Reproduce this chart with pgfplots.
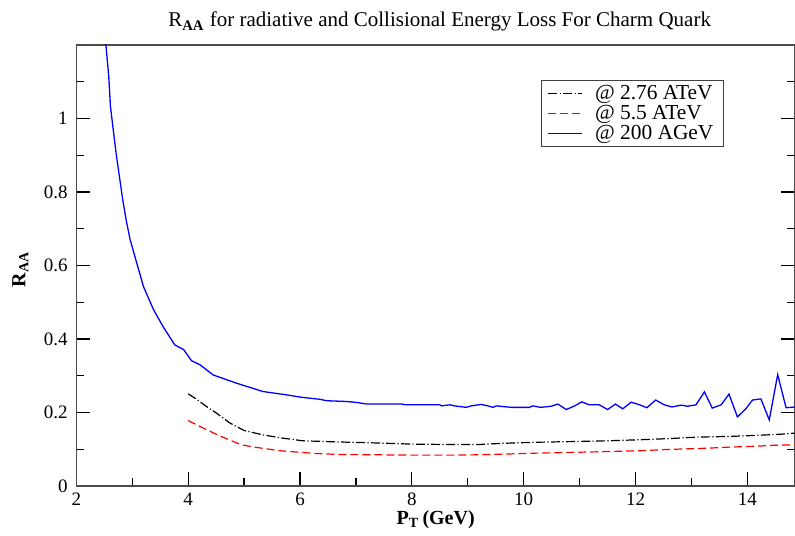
\documentclass[border=0pt]{standalone}
\usepackage{fontspec}
\setmainfont{Liberation Serif}
\usepackage{pgfplots}
\pgfplotsset{compat=1.18}
\begin{document}
\begin{tikzpicture}
\useasboundingbox (-38.15pt,-24.5pt) rectangle (359.35pt,243pt);
\begin{axis}[
  at={(0,0)}, anchor=south west,
  scale only axis, width=359.35pt, height=220.5pt,
  xmin=2, xmax=14.85, ymin=0, ymax=1.2,
  xtick={2,4,...,14}, minor xtick={3,5,...,13},
  ytick={0,0.2,0.4,0.6,0.8,1}, yticklabels={0,0.2,0.4,0.6,0.8,1},
  minor ytick={0.1,0.3,0.5,0.7,0.9,1.1},
  xtick pos=bottom, ytick pos=both,
  major tick length=7pt, minor tick length=3.8pt,
  tick style={black, line width=0.6pt},
  axis line style={black!70, line width=0.6pt},
  /pgf/number format/assume math mode=true,
  tick label style={font=\fontsize{9.5}{11}\selectfont},
  yticklabel style={xshift=-0.8pt},
  every axis title shift=0pt,
  title={R\textsubscript{\bfseries AA} for radiative and Collisional Energy Loss For Charm Quark},
  title style={at={(axis description cs:0.5,1)}, anchor=base, yshift=9pt, xshift=2pt, font=\fontsize{10.5}{12}\selectfont},
  xlabel={\textbf{P\textsubscript{T}\,(GeV)}},
  xlabel style={at={(axis description cs:0.5,0)}, anchor=base, yshift=-19pt, font=\fontsize{10}{12}\selectfont},
  ylabel={\textbf{R\textsubscript{AA}}},
  ylabel style={at={([xshift=-25.5pt,yshift=-2pt]axis description cs:0,0.5)}, anchor=base, font=\fontsize{10}{12}\selectfont},
  legend cell align=left,
  legend style={at={(axis description cs:0.6466,0.9206)}, anchor=north west, draw=black!75, line width=0.6pt,
    font=\fontsize{10.7}{10.7}\selectfont, inner xsep=3pt, inner ysep=1.5pt,
    nodes={inner ysep=0.7pt},
    /tikz/every odd column/.append style={column sep=4pt}},
]
\addplot[color=black, line width=0.6pt, dash pattern=on 4.5pt off 1.2pt on 0.6pt off 1.2pt] coordinates {
(4.00,0.251) (4.15,0.236) (4.33,0.216) (4.51,0.198) (4.74,0.172) (5.00,0.151)
(5.34,0.139) (5.70,0.130) (6.05,0.123) (6.65,0.120) (7.40,0.117) (8.00,0.114)
(8.60,0.113) (9.20,0.113) (9.60,0.116) (10.20,0.119) (10.90,0.121) (11.50,0.123)
(12.10,0.126) (12.60,0.129) (13.10,0.133) (13.70,0.135) (14.20,0.138) (14.60,0.141) (14.85,0.144)
};
\addlegendentry{@ 2.76 ATeV}
\addplot[color=red, line width=0.6pt, dash pattern=on 4pt off 2pt] coordinates {
(4.00,0.178) (4.21,0.162) (4.57,0.136) (4.95,0.112) (5.22,0.105) (5.64,0.096)
(6.23,0.089) (6.65,0.086) (7.30,0.085) (8.00,0.084) (8.80,0.084) (9.20,0.085)
(9.70,0.087) (10.10,0.089) (10.70,0.091) (11.30,0.093) (12.10,0.096) (12.50,0.099)
(12.90,0.101) (13.30,0.103) (13.70,0.106) (14.10,0.108) (14.50,0.111) (14.85,0.112)
};
\addlegendentry{@ 5.5 ATeV}
\addplot[color=blue, line width=0.65pt] coordinates {
(2.50,1.250) (2.53,1.199) (2.58,1.115) (2.61,1.034) (2.66,0.970) (2.71,0.907)
(2.77,0.843) (2.83,0.779) (2.89,0.725) (2.96,0.672) (3.08,0.607) (3.20,0.543)
(3.38,0.480) (3.55,0.434) (3.76,0.384) (3.92,0.371) (4.06,0.341) (4.21,0.330)
(4.45,0.302) (4.86,0.280) (5.34,0.257) (5.76,0.248) (6.00,0.242) (6.17,0.239)
(6.35,0.236) (6.48,0.232) (6.83,0.230) (7.03,0.227) (7.19,0.223) (7.83,0.223)
(7.87,0.221) (8.50,0.221) (8.53,0.218) (8.68,0.221) (8.76,0.218) (8.97,0.214)
(9.06,0.218) (9.24,0.222) (9.36,0.218) (9.45,0.214) (9.51,0.218) (9.78,0.214)
(10.10,0.214) (10.16,0.218) (10.30,0.214) (10.49,0.217) (10.61,0.223) (10.76,0.208)
(10.91,0.218) (11.04,0.229) (11.17,0.221) (11.35,0.221) (11.50,0.208) (11.64,0.223)
(11.77,0.210) (11.92,0.228) (12.07,0.221) (12.20,0.213) (12.36,0.234) (12.51,0.221)
(12.65,0.215) (12.81,0.220) (12.93,0.217) (13.08,0.221) (13.23,0.256) (13.37,0.212)
(13.53,0.221) (13.67,0.250) (13.82,0.188) (13.97,0.210) (14.09,0.234) (14.24,0.237)
(14.39,0.180) (14.54,0.303) (14.69,0.213) (14.85,0.215)
};
\addlegendentry{@ 200 AGeV}
\end{axis}
\end{tikzpicture}
\end{document}
